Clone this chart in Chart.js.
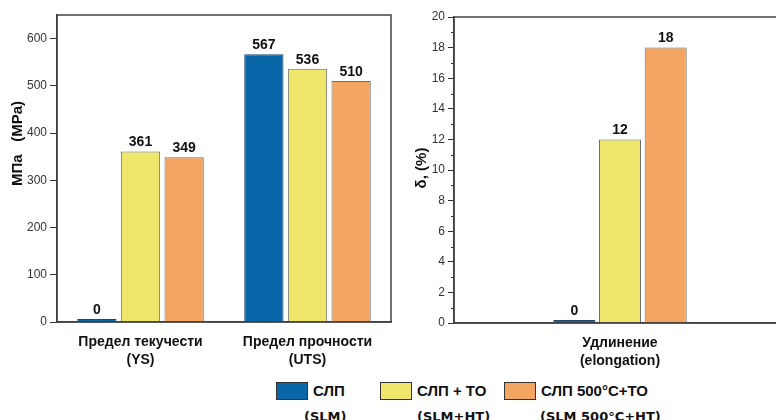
<!DOCTYPE html>
<html>
<head>
<meta charset="utf-8">
<script src="https://cdn.jsdelivr.net/npm/chart.js@4/dist/chart.umd.min.js"></script>
<style>
  html, body { margin: 0; padding: 0; width: 776px; height: 420px; overflow: hidden; background: #fff; }
  .panel { position: absolute; top: 0; height: 375px; }
  #strengthWrap { left: 0; width: 400px; }
  #elongWrap { left: 400px; width: 400px; }
  .lg-box { position: absolute; width: 30px; height: 16px; border: 1px solid #333; }
  .lg-t1 { position: absolute; font: bold 15px "Liberation Sans", Arial, sans-serif; color: #111; line-height: 15px; white-space: nowrap; }
  .lg-t2 { position: absolute; font: bold 13px "DejaVu Sans", Verdana, sans-serif; color: #111; line-height: 13px; white-space: nowrap; }
</style>
</head>
<body>
<div id="strengthWrap" class="panel"><canvas id="strength"></canvas></div>
<div id="elongWrap" class="panel"><canvas id="elong"></canvas></div>
<div id="legend"></div>

<script>
// Strength panel (MPa)
const strengthCategories = [['Предел текучести', '(YS)'], ['Предел прочности', '(UTS)']];
const strengthSLM      = [0, 567];
const strengthSLMHT    = [361, 536];
const strengthSLM500HT = [349, 510];

// Elongation panel (%)
const elongCategories = [['Удлинение', '(elongation)']];
const elongSLM      = [0];
const elongSLMHT    = [12];
const elongSLM500HT = [18];

// Series names (Russian / English)
const seriesNames = [['СЛП', '(SLM)'], ['СЛП + ТО', '(SLM+HT)'], ['СЛП 500°С+ТО', '(SLM 500°C+HT)']];
const seriesColors = ['#0866a9', '#eee76c', '#f4a561'];

const strengthTitle = 'МПа   (MPa)';
const elongTitle = 'δ, (%)';

const AXIS = '#333333';
const FONT = '"Liberation Sans", Arial, sans-serif';

function makeDatasets(values) {
  return values.map((data, i) => ({
    label: seriesNames[i].join(' '),
    data: data,
    backgroundColor: seriesColors[i],
    borderColor: i === 0 ? '#24476a' : '#6e6e6e',
    borderWidth: 1,
    borderSkipped: 'bottom',
    minBarLength: 3
  }));
}

// Value labels above each bar
const valueLabels = {
  id: 'valueLabels',
  afterDatasetsDraw(chart) {
    const ctx = chart.ctx;
    ctx.save();
    ctx.font = 'bold 14px ' + FONT;
    ctx.fillStyle = '#111';
    ctx.textAlign = 'center';
    ctx.textBaseline = 'bottom';
    chart.data.datasets.forEach((ds, di) => {
      chart.getDatasetMeta(di).data.forEach((bar, i) => {
        ctx.fillText(String(ds.data[i]), bar.x, bar.y - 2);
      });
    });
    ctx.restore();
  }
};

// Frame around the plotting area
const frame = {
  id: 'frame',
  afterDraw(chart) {
    const a = chart.chartArea, ctx = chart.ctx;
    ctx.save();
    ctx.strokeStyle = '#444';
    ctx.lineWidth = 1.5;
    ctx.strokeRect(a.left, a.top, a.right - a.left, a.bottom - a.top);
    ctx.restore();
  }
};

// Rotated axis caption
const caption = {
  id: 'caption',
  afterDraw(chart, args, opts) {
    const ctx = chart.ctx, a = chart.chartArea;
    ctx.save();
    ctx.translate(opts.x, (a.top + a.bottom) / 2 + opts.dy);
    ctx.rotate(-Math.PI / 2);
    ctx.font = 'bold 15px ' + FONT;
    ctx.fillStyle = '#111';
    ctx.textAlign = 'center';
    ctx.textBaseline = 'middle';
    ctx.fillText(opts.text, 0, 0);
    ctx.restore();
  }
};

// Short minor ticks between the labelled ones
const minorTicks = {
  id: 'minorTicks',
  afterDraw(chart, args, opts) {
    if (!opts.step) return;
    const y = chart.scales.y, ctx = chart.ctx;
    ctx.save();
    ctx.strokeStyle = AXIS;
    ctx.lineWidth = 1;
    for (let v = y.min + opts.step; v < y.max; v += opts.step * 2) {
      const py = Math.round(y.getPixelForValue(v)) + 0.5;
      ctx.beginPath();
      ctx.moveTo(y.right - 3, py);
      ctx.lineTo(y.right, py);
      ctx.stroke();
    }
    ctx.restore();
  }
};

function baseOptions(cfg) {
  return {
    responsive: true,
    maintainAspectRatio: false,
    animation: false,
    layout: { padding: { top: cfg.top, right: cfg.right, left: 0, bottom: 0 } },
    plugins: {
      legend: { display: false },
      tooltip: { enabled: false },
      caption: cfg.caption,
      minorTicks: { step: cfg.minorStep || 0 }
    },
    datasets: { bar: { categoryPercentage: cfg.catPct, barPercentage: cfg.barPct } },
    scales: {
      x: {
        grid: { display: false },
        border: { display: true, color: AXIS, width: 1.5 },
        ticks: { font: { family: FONT, size: 14, weight: 'bold', lineHeight: 1.3 }, color: '#111', padding: 3, maxRotation: 0 },
        afterFit(s) { s.height = cfg.xHeight; }
      },
      y: {
        min: cfg.min, max: cfg.max,
        grid: { display: true, drawOnChartArea: false, drawTicks: true, tickLength: cfg.tickLen, tickColor: AXIS, tickWidth: 1 },
        border: { display: true, color: AXIS, width: 1.5 },
        ticks: { stepSize: cfg.step, font: { family: FONT, size: 12 }, color: '#333', padding: 3 },
        // keep only the round ticks (the top of the range is left unlabelled)
        afterBuildTicks(s) { s.ticks = s.ticks.filter(t => t.value % cfg.step === 0); },
        afterFit(s) { s.width = cfg.yWidth; }
      }
    }
  };
}

new Chart(document.getElementById('strength'), {
  type: 'bar',
  data: {
    labels: strengthCategories,
    datasets: makeDatasets([strengthSLM, strengthSLMHT, strengthSLM500HT])
  },
  options: baseOptions({
    top: 15, right: 9, xHeight: 53, yWidth: 57,
    min: 0, max: 650, step: 100, tickLen: 7,
    catPct: 0.784, barPct: 0.9,
    caption: { text: strengthTitle, x: 18, dy: -25 }
  }),
  plugins: [valueLabels, frame, caption, minorTicks]
});

new Chart(document.getElementById('elong'), {
  type: 'bar',
  data: {
    labels: elongCategories,
    datasets: makeDatasets([elongSLM, elongSLMHT, elongSLM500HT])
  },
  options: baseOptions({
    top: 17, right: 14, xHeight: 52, yWidth: 54,
    min: 0, max: 20, step: 2, tickLen: 6, minorStep: 1,
    catPct: 0.413, barPct: 0.92,
    caption: { text: elongTitle, x: 22, dy: -2 }
  }),
  plugins: [valueLabels, frame, caption, minorTicks]
});

// Legend below both panels
const legendLayout = [
  { box: 276, t1: 313, t2: 304 },
  { box: 380, t1: 417, t2: 417 },
  { box: 504, t1: 541, t2: 540 }
];
const legend = document.getElementById('legend');
seriesNames.forEach((names, i) => {
  const p = legendLayout[i];
  const box = document.createElement('div');
  box.className = 'lg-box';
  box.style.left = p.box + 'px';
  box.style.top = '382px';
  box.style.background = seriesColors[i];
  legend.appendChild(box);
  const t1 = document.createElement('div');
  t1.className = 'lg-t1';
  t1.style.left = p.t1 + 'px';
  t1.style.top = '383px';
  t1.textContent = names[0];
  legend.appendChild(t1);
  const t2 = document.createElement('div');
  t2.className = 'lg-t2';
  t2.style.left = p.t2 + 'px';
  t2.style.top = '410px';
  t2.textContent = names[1];
  legend.appendChild(t2);
});
</script>
</body>
</html>
